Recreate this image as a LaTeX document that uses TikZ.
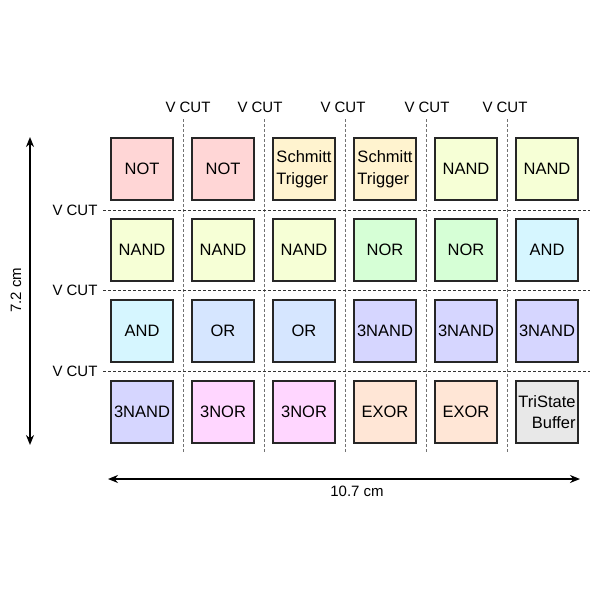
\documentclass[tikz,border=0pt]{standalone}
\usepackage{fontspec}
\setmainfont{Liberation Sans}
\usetikzlibrary{arrows.meta}
\definecolor{cNOT}{HTML}{FFD6D6}
\definecolor{cST}{HTML}{FFF3CF}
\definecolor{cNAND}{HTML}{F6FFD6}
\definecolor{cNOR}{HTML}{D6FFD6}
\definecolor{cAND}{HTML}{D6F6FF}
\definecolor{cOR}{HTML}{D6E6FF}
\definecolor{cNAND3}{HTML}{D6D6FF}
\definecolor{cNOR3}{HTML}{FFD6FF}
\definecolor{cEXOR}{HTML}{FFE6D6}
\definecolor{cTRI}{HTML}{E8E8E8}
\begin{document}
\begin{tikzpicture}[x=1pt,y=-1pt,
  gate/.style={draw=black!85, line width=1.6pt, minimum width=62pt, minimum height=62pt, inner sep=0.5pt, font=\fontsize{16.5}{21.5}\selectfont, align=center},
  vcut/.style={draw=black!55, line width=0.7pt, densely dashed},
  hcut/.style={draw=black!80, line width=0.7pt, densely dashed},
  lbl/.style={font=\fontsize{15}{17}\selectfont},
  dim/.style={line width=1.8pt, {Stealth[length=10pt,width=8pt]}-{Stealth[length=10pt,width=8pt]}}]
\useasboundingbox (0,0) rectangle (600,600);
% cut lines
\foreach \x/\n in {183/1,264/2,345/3,426/4,507/5}{
  \coordinate (vt\n) at (\x,119);
  \coordinate (vb\n) at (\x,452);
  \draw[vcut] (vt\n) -- (vb\n);
}
\foreach \y/\n in {210/1,290/2,371/3}{
  \coordinate (hl\n) at (103,\y);
  \coordinate (hr\n) at (590,\y);
  \draw[hcut] (hl\n) -- (hr\n);
  \node[lbl] (hc\n) at (75,\y) {V CUT};
}
\node[lbl] (vc1) at (188,107) {V CUT};
\node[lbl] (vc2) at (260,107) {V CUT};
\node[lbl] (vc3) at (343,107) {V CUT};
\node[lbl] (vc4) at (427,107) {V CUT};
\node[lbl] (vc5) at (505,107) {V CUT};
% gates
\node[gate, fill=cNOT] (g11) at (142,169) {NOT};
\node[gate, fill=cNOT] (g12) at (223,169) {NOT};
\node[gate, fill=cST, align=left] (g13) at (304,169) {Schmitt\\Trigger};
\node[gate, fill=cST, align=left] (g14) at (385,169) {Schmitt\\Trigger};
\node[gate, fill=cNAND] (g15) at (466,169) {NAND};
\node[gate, fill=cNAND] (g16) at (547,169) {NAND};
\node[gate, fill=cNAND] (g21) at (142,250) {NAND};
\node[gate, fill=cNAND] (g22) at (223,250) {NAND};
\node[gate, fill=cNAND] (g23) at (304,250) {NAND};
\node[gate, fill=cNOR] (g24) at (385,250) {NOR};
\node[gate, fill=cNOR] (g25) at (466,250) {NOR};
\node[gate, fill=cAND] (g26) at (547,250) {AND};
\node[gate, fill=cAND] (g31) at (142,331) {AND};
\node[gate, fill=cOR] (g32) at (223,331) {OR};
\node[gate, fill=cOR] (g33) at (304,331) {OR};
\node[gate, fill=cNAND3] (g34) at (385,331) {3NAND};
\node[gate, fill=cNAND3] (g35) at (466,331) {3NAND};
\node[gate, fill=cNAND3] (g36) at (547,331) {3NAND};
\node[gate, fill=cNAND3] (g41) at (142,412) {3NAND};
\node[gate, fill=cNOR3] (g42) at (223,412) {3NOR};
\node[gate, fill=cNOR3] (g43) at (304,412) {3NOR};
\node[gate, fill=cEXOR] (g44) at (385,412) {EXOR};
\node[gate, fill=cEXOR] (g45) at (466,412) {EXOR};
\node[gate, fill=cTRI, align=right] (g46) at (547,412) {TriState\\Buffer};
% dimensions
\coordinate (at) at (30,137);
\coordinate (ab) at (30,445);
\draw[dim] (at) -- (ab);
\node[lbl, rotate=90] (h) at (16,290) {7.2 cm};
\coordinate (al) at (108,479);
\coordinate (ar) at (580,479);
\draw[dim] (al) -- (ar);
\node[lbl] (w) at (357,491) {10.7 cm};
\end{tikzpicture}
\end{document}
